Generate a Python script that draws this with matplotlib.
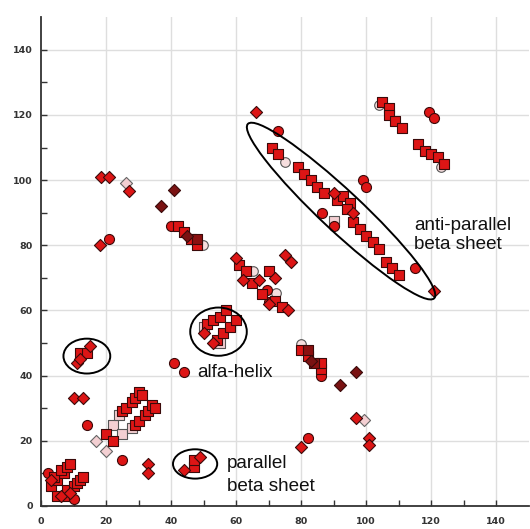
import matplotlib
matplotlib.use("Agg")
import matplotlib.pyplot as plt
from matplotlib.patches import Ellipse
import numpy as np

# ---- data (residue i, residue j) by marker type ----
red_squares = [(3, 6), (5, 8), (7, 10), (4, 9), (6, 11), (8, 12), (9, 13),
               (5, 3), (7, 3), (8, 5), (10, 6), (11, 7), (12, 8), (13, 9),
               (20, 22), (22, 20),
               (25, 29), (26, 30), (28, 32), (29, 33), (30, 35), (31, 34),
               (29, 25), (30, 26), (32, 28), (33, 29), (34, 31), (35, 30),
               (12, 47), (14, 47), (47, 12), (47, 14),
               (51, 56), (53, 57), (55, 58), (57, 60),
               (54, 51), (56, 53), (58, 55), (60, 57),
               (42, 86), (44, 84), (46, 82), (48, 80),
               (61, 74), (63, 72), (65, 68.5), (70, 72), (68, 65), (72, 63), (74, 61),
               (71, 110), (73, 108), (79, 104), (81, 102), (83, 100), (85, 98),
               (87, 96), (91, 94), (93, 95), (95, 93), (94, 91), (96, 87), (98, 85),
               (100, 83), (102, 81), (104, 79), (106, 75), (108, 73), (110, 71),
               (105, 124), (107, 122), (107, 120), (109, 118), (111, 116),
               (116, 111), (118, 109), (120, 108), (122, 107), (124, 105),
               (80, 48), (82, 46), (86, 42), (86, 44)]
red_diamonds = [(3, 8), (6, 3), (9, 4),
                (10, 33), (13, 33), (33, 13), (33, 10),
                (11, 44), (12, 45), (15, 49), (44, 11), (49, 15),
                (50, 53), (53, 50),
                (18.5, 101), (21, 101), (27, 96.7), (18, 80),
                (60, 76), (62, 69.5), (67, 69.3), (72, 70), (70, 62), (76, 60),
                (75, 77), (77, 75),
                (66, 121), (90, 96), (96, 90), (121, 66),
                (97, 27), (101, 21), (101, 18.7), (80, 18)]
red_circles = [(2, 10), (10, 2), (14, 25), (25, 14), (41, 44), (44, 41),
               (21, 82), (40, 86), (73, 115), (86.4, 90), (90, 86),
               (99, 100), (100, 98), (115, 73), (119.4, 121), (121, 119),
               (69.4, 66.3), (70.2, 62.5), (82, 21), (86, 40)]
dark_diamonds = [(37, 92), (41, 97), (92, 37), (97, 41), (45, 83), (83, 44.6)]
dark_squares = [(48, 82), (82, 48), (84, 44)]
pink_diamonds = [(17, 20), (20, 17), (26, 99), (99.5, 26.4)]
pink_squares = [(22, 25), (24, 28), (25, 22), (28, 24), (50, 55), (55, 50), (90, 87.5)]
pink_circles = [(65.3, 72), (72.3, 65.4), (104, 123), (123, 104),
                (75, 105.5), (49.7, 80), (80, 49.7)]

ticks = [0, 20, 40, 60, 80, 100, 120, 140]

fig = plt.figure(figsize=(5.30, 5.29), dpi=100)
ax = fig.add_axes([0.0774, 0.0435, 0.92, 0.924])
ax.set_xlim(0, 150)
ax.set_ylim(0, 150)

for t in ticks[1:]:
    ax.axvline(t, color="#dedede", lw=1.0, zorder=0)
    ax.axhline(t, color="#dedede", lw=1.0, zorder=0)

edge = "#3a0a0a"
def sc(pts, marker, fc, s, ec=edge):
    a = np.array(pts)
    ax.scatter(a[:, 0], a[:, 1], marker=marker, s=s, facecolor=fc,
               edgecolor=ec, linewidth=0.8, zorder=3)

sc(pink_squares, "s", "#f3cfd2", 46, "#555555")
sc(pink_diamonds, "D", "#f3cfd2", 38, "#666666")
sc(pink_circles, "o", "#f6dede", 48, "#555555")
sc(red_circles, "o", "#dd1515", 52)
sc(red_squares, "s", "#dd1515", 46)
sc(red_diamonds, "D", "#dd1515", 38)
sc(dark_squares, "s", "#8a1010", 46)
sc(dark_diamonds, "D", "#7a1212", 38)

# annotation ellipses
for (cx, cy, w, h, ang) in [(14.1, 46, 14.4, 10.7, 0), (47.4, 12.9, 13.6, 9, 0),
                            (54.6, 53.5, 17.4, 14.8, 0), (92.3, 90.5, 78.4, 12.5, -43)]:
    ax.add_patch(Ellipse((cx, cy), w, h, angle=ang, fill=False,
                         edgecolor="black", lw=1.4, zorder=4))

tf = dict(fontsize=13.6, family="Liberation Sans", color="#111111", zorder=5)
ax.text(48.2, 41.1, "alfa-helix", va="center", ha="left", **tf)
ax.text(57.1, 12.9, "parallel", va="center", ha="left", **tf)
ax.text(57.1, 5.9, "beta sheet", va="center", ha="left", **tf)
ax.text(114.8, 86.2, "anti-parallel", va="center", ha="left", **tf)
ax.text(114.8, 80.1, "beta sheet", va="center", ha="left", **tf)

ax.set_xticks(ticks)
ax.set_yticks(ticks)
ax.set_xticks(range(10, 150, 20), minor=True)
ax.set_yticks(range(10, 150, 20), minor=True)
ax.tick_params(which="both", direction="in", length=4, width=1, color="#333333")
ax.tick_params(axis="x", pad=8)
ax.tick_params(axis="y", pad=6)
for lab in ax.get_xticklabels() + ax.get_yticklabels():
    lab.set_fontsize(6.8)
    lab.set_fontweight("bold")
    lab.set_color("#333333")
for side in ["top", "right"]:
    ax.spines[side].set_visible(False)
for side in ["left", "bottom"]:
    ax.spines[side].set_linewidth(1.3)
    ax.spines[side].set_color("#333333")

fig.savefig("out.png", dpi=100)
